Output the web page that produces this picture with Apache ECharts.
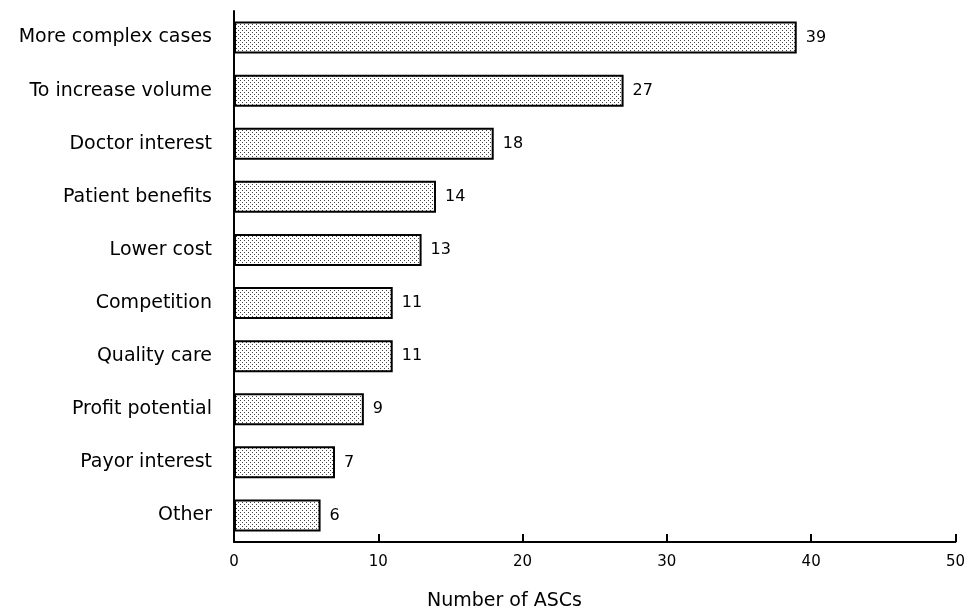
<!DOCTYPE html>
<html><head><meta charset="utf-8">
<script src="https://cdn.jsdelivr.net/npm/echarts@6/dist/echarts.min.js"></script>
<style>html,body{margin:0;padding:0;background:#fff}#c{width:968px;height:612px}</style>
</head><body><div id="c"></div>
<script>
var categories = ["More complex cases","To increase volume","Doctor interest","Patient benefits","Lower cost","Competition","Quality care","Profit potential","Payor interest","Other"];
var values = [39,27,18,14,13,11,11,9,7,6];
var xTicks = [0,10,20,30,40,50];

var pc = document.createElement('canvas');
pc.width = 4; pc.height = 4;
var g = pc.getContext('2d');
g.fillStyle = '#ffffff'; g.fillRect(0,0,4,4);
g.fillStyle = '#444444'; g.fillRect(0,0,1,1); g.fillRect(2,2,1,1);

var chart = echarts.init(document.getElementById('c'));
chart.setOption({
  animation:false,
  backgroundColor:'#fff',
  grid:{left:234,right:10,top:11,bottom:70},
  xAxis:{type:'value',min:0,max:50,interval:10,
    axisLine:{show:true,lineStyle:{color:'#000',width:2}},
    axisTick:{show:true,inside:true,length:8,lineStyle:{color:'#000',width:2}},
    splitLine:{show:false},
    axisLabel:{color:'#000',fontFamily:'DejaVu Sans',fontSize:15,margin:13,
      formatter:function(v){return xTicks.indexOf(v)>=0?String(v):'';}}
  },
  yAxis:{type:'category',data:categories,inverse:true,
    axisLine:{show:true,lineStyle:{color:'#000',width:2}},
    axisTick:{show:false},
    axisLabel:{color:'#000',fontFamily:'DejaVu Sans',fontSize:19,margin:22}
  },
  graphic:[{type:'text',left:427,top:592,style:{text:'Number of ASCs',fill:'#000',font:'19px "DejaVu Sans"'}}],
  series:[{type:'bar',data:values,barWidth:32,
    itemStyle:{color:{image:pc,repeat:'repeat'},borderColor:'#000',borderWidth:2},
    label:{show:true,position:'right',distance:9,color:'#000',fontFamily:'DejaVu Sans',fontSize:16}
  }]
});
</script></body></html>
